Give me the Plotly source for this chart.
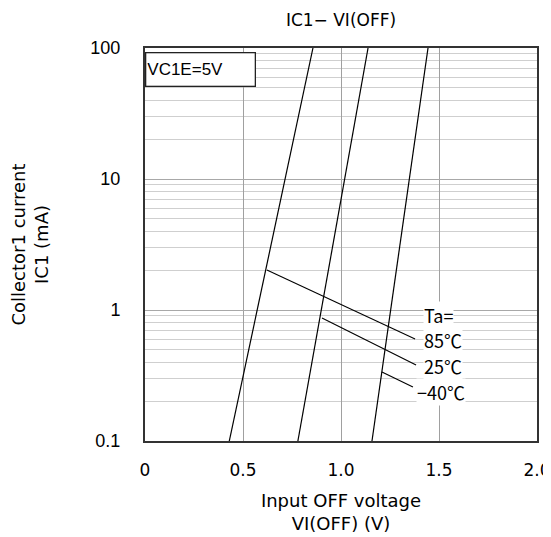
import math
import plotly.graph_objects as go

# Data
ic_ends = [0.1, 100]                 # IC1 (mA) at the ends of each curve
v_85 = [0.43, 0.857]                 # VI(OFF) at Ta=85°C
v_25 = [0.78, 1.138]                 # VI(OFF) at Ta=25°C
v_m40 = [1.158, 1.444]               # VI(OFF) at Ta=-40°C

lead_85_x = [0.622, 1.378]
lead_85_y = [2.02, 0.60]
lead_25_x = [0.903, 1.383]
lead_25_y = [0.87, 0.38]
lead_m40_x = [1.209, 1.367]
lead_m40_y = [0.336, 0.258]

x_ticks = [0, 0.5, 1.0, 1.5, 2.0]
x_tick_text = ["0", "0.5", "1.0", "1.5", "2.0"]
y_ticks = [0.1, 1, 10, 100]
y_tick_text = ["0.1", "1", "10", "100"]
y_minor = [m * d for d in (0.1, 1, 10) for m in range(2, 10)]

labels = ["Ta=", "85℃", "25℃", "−40℃"]
label_x = [1.418, 1.418, 1.418, 1.385]
label_y = [0.916, 0.59, 0.374, 0.237]

FONT = "Noto Sans CJK JP"
WIDE = "DejaVu Sans"
line_style = dict(color="black", width=1.2)

fig = go.Figure()
for xs in (v_85, v_25, v_m40):
    fig.add_trace(go.Scatter(x=xs, y=ic_ends, mode="lines", line=line_style,
                             showlegend=False, hoverinfo="skip"))
for lx, ly in ((lead_85_x, lead_85_y), (lead_25_x, lead_25_y), (lead_m40_x, lead_m40_y)):
    fig.add_trace(go.Scatter(x=lx, y=ly, mode="lines", line=dict(color="black", width=1.1),
                             showlegend=False, hoverinfo="skip"))

for t, x, y in zip(labels, label_x, label_y):
    fig.add_annotation(x=x, y=math.log10(y), yref="y", xref="x", text=t, showarrow=False,
                       xanchor="left", yanchor="middle", bgcolor="white",
                       font=dict(family=FONT, size=18, color="black"), borderpad=0)

fig.add_annotation(x=0, y=1, xref="paper", yref="paper", text="VC1E=5V",
                   showarrow=False, xanchor="left", yanchor="top", align="left",
                   bgcolor="white", bordercolor="#222", borderwidth=1.3,
                   width=106, height=30, borderpad=1, yshift=-4,
                   font=dict(family="Liberation Sans", size=17, color="black"))

# page body has an 8px margin, so the figure is offset by (8, 8)
H = 529
fig.update_layout(
    width=543, height=H,
    margin=dict(l=137, r=14, t=40, b=96, autoexpand=False),
    paper_bgcolor="white", plot_bgcolor="white",
    title=dict(text="IC1− VI(OFF)", x=0.5, xanchor="center", xref="paper",
               y=1 - 12 / H, yanchor="middle", automargin=False,
               font=dict(family=WIDE, size=17, color="black")),
    font=dict(family=FONT, color="black"),
)
fig.update_xaxes(range=[0, 2.0], tickvals=x_ticks, ticktext=x_tick_text,
                 showgrid=True, gridcolor="#a0a0a0", gridwidth=1,
                 showline=True, linecolor="#333", linewidth=2, mirror=True,
                 ticks="", ticklabelstandoff=13, zeroline=False, automargin=False,
                 ticklabeloverflow="allow",
                 tickfont=dict(family=WIDE, size=17),
                 title=dict(text="Input OFF voltage<br>VI(OFF) (V)", standoff=15,
                            font=dict(family=WIDE, size=18)))
fig.update_yaxes(type="log", range=[-1, 2], tickvals=y_ticks, ticktext=y_tick_text,
                 showgrid=True, gridcolor="#a8a8a8", gridwidth=1,
                 minor=dict(tickvals=y_minor, showgrid=True, gridcolor="#cfcfcf", gridwidth=1, ticks=""),
                 showline=True, linecolor="#333", linewidth=2, mirror=True,
                 ticks="", ticklabelstandoff=19, zeroline=False, automargin=False,
                 tickfont=dict(family="Liberation Sans", size=18),
                 title=dict(text="Collector1 current<br>IC1 (mA)", standoff=45,
                            font=dict(family=WIDE, size=18)))

fig.write_html("out.html")
